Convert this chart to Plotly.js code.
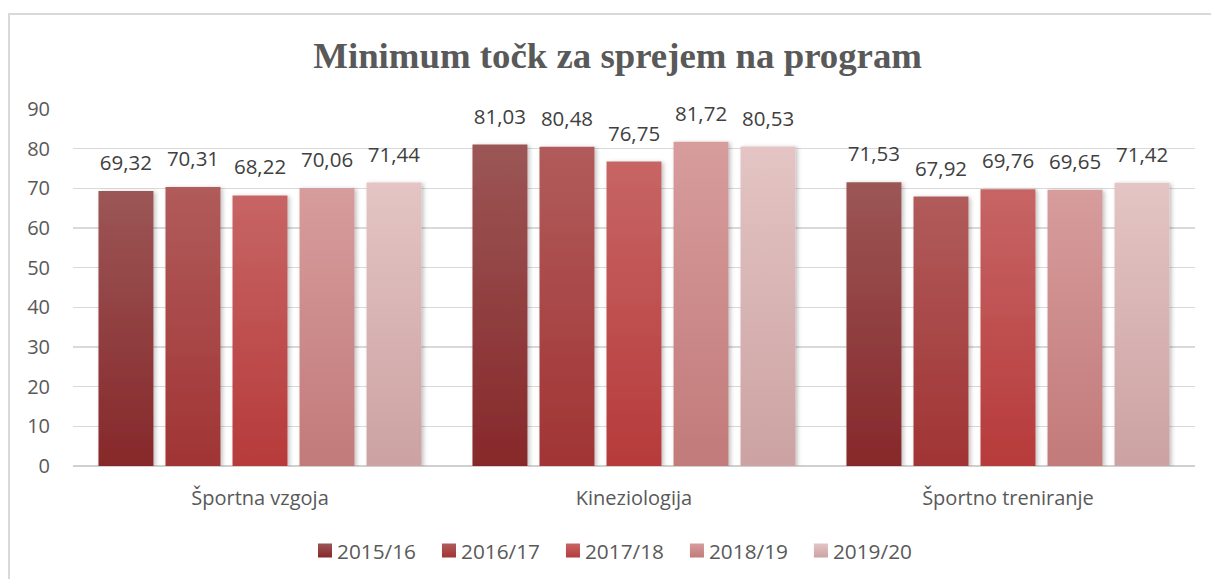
<!DOCTYPE html>
<html><head><meta charset="utf-8">
<script src="https://cdn.plot.ly/plotly-3.0.1.min.js"></script>
<style>
html,body{margin:0;padding:0;background:#fff;overflow:hidden;}
#frame{position:absolute;left:8px;top:13px;width:1300px;height:700px;border:2px solid #d9d9d9;box-sizing:border-box;pointer-events:none;}
#chart{position:absolute;left:0;top:0;width:1211px;height:579px;}
</style></head>
<body>
<div id="chart"></div>
<div id="frame"></div>
<script>
const categories = ["Športna vzgoja", "Kineziologija", "Športno treniranje"];
const seriesNames = ["2015/16", "2016/17", "2017/18", "2018/19", "2019/20"];
const v2015 = [69.32, 81.03, 71.53];
const v2016 = [70.31, 80.48, 67.92];
const v2017 = [68.22, 76.75, 69.76];
const v2018 = [70.06, 81.72, 69.65];
const v2019 = [71.44, 80.53, 71.42];
const seriesValues = [v2015, v2016, v2017, v2018, v2019];
const yTicks = [0, 10, 20, 30, 40, 50, 60, 70, 80, 90];

const topColors = ["#9C5656", "#B15B5B", "#C76565", "#D79C9C", "#E4C4C4"];
const bottomColors = ["#86282A", "#A13434", "#B73A3A", "#C27A7A", "#CCA2A2"];
const midColors = ["#913F40", "#A94848", "#BF4F4F", "#CC8B8B", "#D8B3B3"];

const FONT = "Open Sans, Noto Sans, sans-serif";

const traces = seriesNames.map((n, i) => ({
  type: "bar",
  name: n,
  x: categories,
  y: seriesValues[i],
  marker: {color: midColors[i], line: {width: 0}},
  texttemplate: "%{y:.2f}",
  textposition: "outside",
  cliponaxis: false,
  textfont: {family: FONT, size: 20.5, color: "#404040"},
  hoverinfo: "none"
}));

const layout = {
  width: 1211, height: 579,
  margin: {l: 73, r: 16, t: 109, b: 113, autoexpand: false},
  paper_bgcolor: "rgba(0,0,0,0)",
  plot_bgcolor: "rgba(0,0,0,0)",
  separators: ", ",
  barmode: "group",
  bargap: 0.104,
  bargroupgap: 0.18,
  title: {
    text: "<b>Minimum točk za sprejem na program</b>",
    font: {family: "Liberation Serif, DejaVu Serif, serif", size: 36.8, color: "#595959"},
    x: 0.51, xanchor: "center", y: 0.905, yanchor: "middle"
  },
  xaxis: {
    showgrid: false, showline: false, zeroline: false, ticks: "",
    tickfont: {family: FONT, size: 20, color: "#595959"},
    ticklabelstandoff: 18
  },
  yaxis: {
    range: [0, 90], tickvals: yTicks, ticktext: yTicks.map(String),
    showgrid: true, gridcolor: "#d9d9d9", gridwidth: 1.3,
    zeroline: true, zerolinecolor: "#d0d0d0", zerolinewidth: 1.5,
    showline: false, ticks: "",
    tickfont: {family: FONT, size: 20, color: "#595959"},
    ticklabelstandoff: 22
  },
  showlegend: true,
  legend: {
    orientation: "h", xref: "container", yref: "container",
    x: 297 / 1211, xanchor: "left", y: 1 - 551 / 579, yanchor: "middle",
    font: {family: FONT, size: 20.8, color: "#595959"},
    itemwidth: 30, traceorder: "normal", borderwidth: 0
  }
};

Plotly.newPlot("chart", traces, layout, {displayModeBar: false, staticPlot: true}).then(gd => {
  const svg = gd.querySelector(".main-svg");
  const ns = "http://www.w3.org/2000/svg";
  let defs = svg.querySelector("defs");
  topColors.forEach((c, i) => {
    const lg = document.createElementNS(ns, "linearGradient");
    lg.setAttribute("id", "grad" + i);
    lg.setAttribute("x1", "0"); lg.setAttribute("y1", "0");
    lg.setAttribute("x2", "0"); lg.setAttribute("y2", "1");
    const s1 = document.createElementNS(ns, "stop");
    s1.setAttribute("offset", "0"); s1.setAttribute("stop-color", c);
    const s2 = document.createElementNS(ns, "stop");
    s2.setAttribute("offset", "1"); s2.setAttribute("stop-color", bottomColors[i]);
    lg.appendChild(s1); lg.appendChild(s2);
    defs.appendChild(lg);
  });
  const filt = document.createElementNS(ns, "filter");
  filt.setAttribute("id", "barshadow");
  filt.setAttribute("x", "-20%"); filt.setAttribute("y", "-5%");
  filt.setAttribute("width", "140%"); filt.setAttribute("height", "110%");
  filt.innerHTML = '<feDropShadow dx="2" dy="1" stdDeviation="2" flood-color="#000" flood-opacity="0.25"/>';
  defs.appendChild(filt);
  gd.querySelectorAll(".barlayer .trace").forEach((t, i) => {
    t.querySelectorAll("path").forEach(p => {
      p.style.fill = "url(#grad" + i + ")";
      p.style.filter = "url(#barshadow)";
    });
    t.querySelectorAll("text").forEach(tx => {
      const tr = tx.getAttribute("transform") || "";
      tx.setAttribute("transform", "translate(0,-12) " + tr);
    });
  });
  gd.querySelectorAll(".legend .traces").forEach((t, i) => {
    t.querySelectorAll(".legendpoints path").forEach(p => {
      p.style.fill = "url(#grad" + i + ")";
      const tr = p.getAttribute("transform") || "";
      p.setAttribute("transform", "translate(8,0) " + tr + " scale(1.17)");
    });
  });
});
</script>
</body></html>
